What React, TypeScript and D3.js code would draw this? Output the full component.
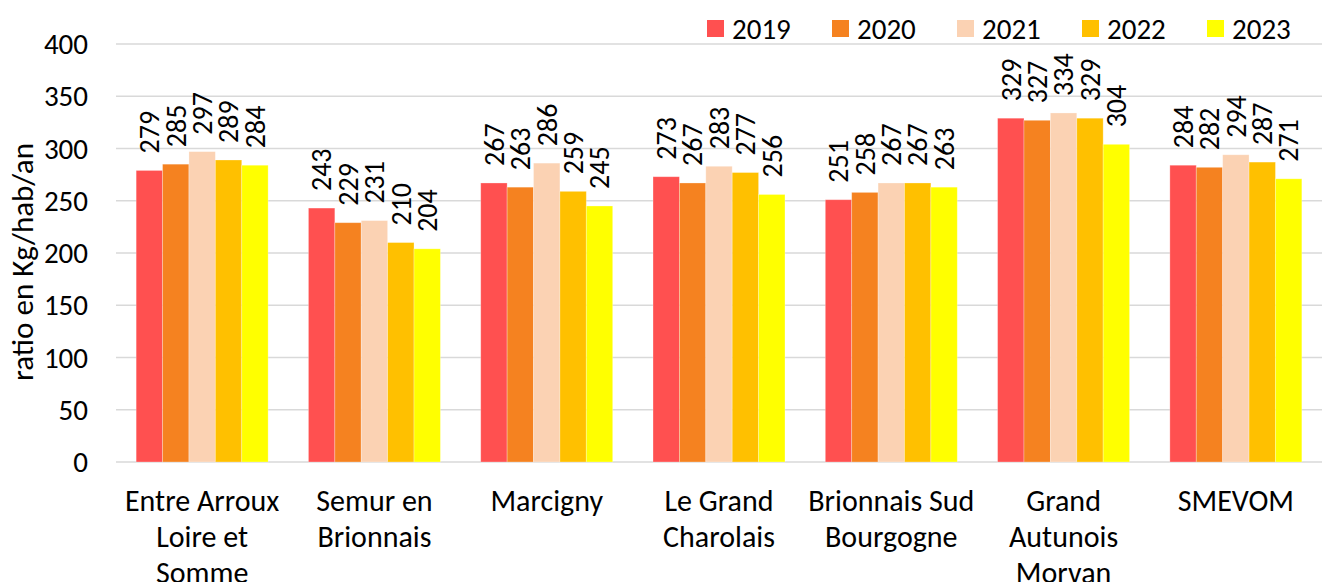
import React from "react";
import * as d3 from "d3";

const categories: string[][] = [
  ["Entre Arroux", "Loire et", "Somme"],
  ["Semur en", "Brionnais"],
  ["Marcigny"],
  ["Le Grand", "Charolais"],
  ["Brionnais Sud", "Bourgogne"],
  ["Grand", "Autunois", "Morvan"],
  ["SMEVOM"],
];
const years = ["2019", "2020", "2021", "2022", "2023"];
const colors = ["#FF5050", "#F58220", "#FBD2B3", "#FFC000", "#FFFF00"];
const s2019 = [279, 243, 267, 273, 251, 329, 284];
const s2020 = [285, 229, 263, 267, 258, 327, 282];
const s2021 = [297, 231, 286, 283, 267, 334, 294];
const s2022 = [289, 210, 259, 277, 267, 329, 287];
const s2023 = [284, 204, 245, 256, 263, 304, 271];
const series = [s2019, s2020, s2021, s2022, s2023];
const yTicks = [0, 50, 100, 150, 200, 250, 300, 350, 400];

const FONT = "Carlito, Calibri, 'Open Sans', sans-serif";

export default function App() {
  const W = 1334, H = 582;
  const left = 116, right = 1322, top = 44, bottom = 462;
  const x0 = d3.scaleBand<number>().domain(categories.map((_, i) => i)).range([left, right]).paddingInner(0.234).paddingOuter(0.117);
  const x1 = d3.scaleBand<number>().domain(years.map((_, i) => i)).range([0, x0.bandwidth()]);
  const y = d3.scaleLinear().domain([0, 400]).range([bottom, top]);
  const legendX = d3.scaleBand<number>().domain(years.map((_, i) => i)).range([707, 1332]);

  return (
    <svg width={W} height={H} style={{ position: "absolute", left: 0, top: 0, background: "#fff" }} fontFamily={FONT}>
      {yTicks.map((t) => (
        <g key={t}>
          <line x1={left} x2={right} y1={y(t)} y2={y(t)} stroke="#d9d9d9" strokeWidth={1.5} />
          <text x={88} y={y(t)} dy="0.35em" textAnchor="end" fontSize={29} fill="#000">{t}</text>
        </g>
      ))}
      <text transform={`translate(22,262) rotate(-90)`} textAnchor="middle" dy="0.35em" fontSize={31} fill="#000">ratio en Kg/hab/an</text>
      {categories.map((c, ci) => (
        <g key={ci}>
          {series.map((s, si) => {
            const bx = (x0(ci) as number) + (x1(si) as number);
            const bw = x1.bandwidth();
            const cx = bx + bw / 2;
            return (
              <g key={si}>
                <rect x={bx} y={y(s[ci])} width={bw} height={bottom - y(s[ci])} fill={colors[si]} stroke="#ffffff" strokeOpacity={0.35} strokeWidth={0.8} />
                <text transform={`translate(${cx},${y(s[ci]) - 17}) rotate(-90)`} dy="0.35em" textAnchor="start" fontSize={28} fill="#000">{s[ci]}</text>
              </g>
            );
          })}
          {c.map((line, li) => (
            <text key={li} x={(x0(ci) as number) + x0.bandwidth() / 2} y={500 + li * 36} dy="0.35em" textAnchor="middle" fontSize={30} fill="#000">{line}</text>
          ))}
        </g>
      ))}
      {years.map((yr, i) => (
        <g key={yr}>
          <rect x={legendX(i) as number} y={20} width={17} height={17} fill={colors[i]} />
          <text x={(legendX(i) as number) + 25} y={28.5} dy="0.35em" fontSize={29} fill="#000">{yr}</text>
        </g>
      ))}
    </svg>
  );
}
